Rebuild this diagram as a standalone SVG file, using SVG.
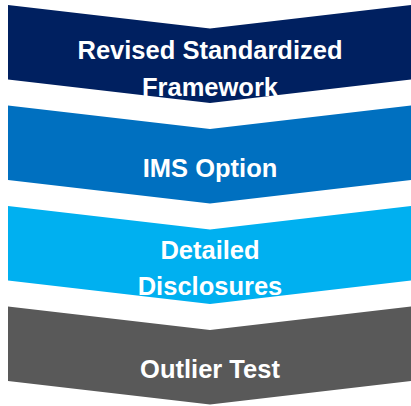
<svg xmlns="http://www.w3.org/2000/svg" width="411" height="406" viewBox="0 0 411 406">
  <style>
    .step { stroke: none; }
    .label { font-family: "Liberation Sans", Arial, sans-serif; font-weight: bold; font-size: 25.5px; fill: #FFFFFF; text-anchor: middle; }
  </style>
  <defs>
    <!-- downward chevron: notched top, pointed bottom -->
    <path id="chev" d="M8,0 L210,23.5 L412,0 L412,74.5 L210,98 L8,74.5 Z"/>
  </defs>
  <rect width="411" height="406" fill="#FFFFFF"/>
  <g id="step-rsf">
    <use href="#chev" class="step" fill="#002060" transform="translate(0,5)"/>
    <text class="label" x="210" y="58.5">Revised Standardized</text>
    <text class="label" x="210" y="96">Framework</text>
  </g>
  <g id="step-ims">
    <use href="#chev" class="step" fill="#0070C0" transform="translate(0,105.5)"/>
    <text class="label" x="210" y="177">IMS Option</text>
  </g>
  <g id="step-disclosures">
    <use href="#chev" class="step" fill="#00B0F0" transform="translate(0,206)"/>
    <text class="label" x="210" y="258.5">Detailed</text>
    <text class="label" x="210" y="295">Disclosures</text>
  </g>
  <g id="step-outlier">
    <use href="#chev" class="step" fill="#595959" transform="translate(0,306.5)"/>
    <text class="label" x="210" y="378">Outlier Test</text>
  </g>
  <g id="connectors"/>
</svg>
